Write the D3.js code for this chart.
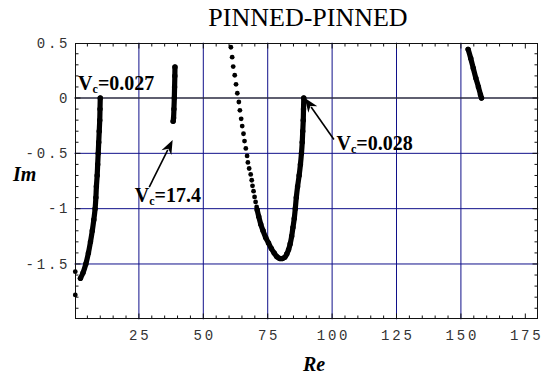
<!DOCTYPE html>
<html>
<head>
<meta charset="utf-8">
<script src="https://cdn.jsdelivr.net/npm/d3@7"></script>
<style>
  html, body { margin: 0; padding: 0; background: #fff; }
  svg { display: block; }
</style>
</head>
<body>
<script>
// ---------------- data ----------------
const titleText = "PINNED-PINNED";
const xLabel = "Re";
const yLabel = "Im";

const xTickValues = [25, 50, 75, 100, 125, 150, 175];
const xTickLabels = ["25", "50", "75", "100", "125", "150", "175"];
const yTickValues = [0.5, 0, -0.5, -1, -1.5];
const yTickLabels = ["0.5", "0", "-0.5", "-1", "-1.5"];
const xGridValues = [25, 50, 75, 100, 125, 150];
const yGridValues = [-1.5, -1, -0.5];

// branch near Re ~ 10 (dense)
const curveA = [
  [10.0, 0.0], [9.9, -0.1], [9.8, -0.2], [9.6, -0.3], [9.4, -0.4], [9.2, -0.5],
  [9.0, -0.6], [8.8, -0.7], [8.5, -0.8], [8.3, -0.9], [8.0, -1.0], [7.5, -1.1],
  [6.9, -1.2], [6.2, -1.3], [5.4, -1.4], [4.4, -1.5], [3.3, -1.58], [2.3, -1.63]
];
const curveAIsolated = [[0.3, -1.57], [0.3, -1.78]];

// short vertical branch near Re ~ 38.7 (dense)
const curveB = [
  [39.0, 0.28], [38.95, 0.2], [38.85, 0.1], [38.75, 0.0], [38.6, -0.1], [38.45, -0.18], [38.3, -0.21]
];

// U-shaped branch: sparse dots at the top-left, then dense
const curveCSparse = [
  [60.7, 0.459], [61.2, 0.369], [61.6, 0.284], [62.2, 0.206], [62.7, 0.124], [63.2, 0.043],
  [63.8, -0.036], [64.2, -0.111], [64.7, -0.188], [65.1, -0.254], [65.6, -0.323], [66.0, -0.389],
  [66.5, -0.456], [67.0, -0.523], [67.3, -0.582], [67.8, -0.637], [68.4, -0.691], [68.8, -0.743],
  [69.1, -0.794], [69.5, -0.842], [69.9, -0.894], [70.3, -0.939], [70.7, -0.984]
];
const curveCDense = [
  [70.9, -1.01], [71.5, -1.07], [72.3, -1.14], [73.2, -1.20], [74.2, -1.26], [75.3, -1.31],
  [76.4, -1.36], [77.5, -1.40], [78.6, -1.435], [79.7, -1.45], [80.7, -1.45], [81.6, -1.44],
  [82.4, -1.41], [83.1, -1.37], [83.7, -1.32], [84.3, -1.25], [84.8, -1.17], [85.3, -1.09],
  [85.7, -1.0], [86.1, -0.9], [86.6, -0.8], [87.2, -0.7], [87.7, -0.6], [88.1, -0.5],
  [88.4, -0.4], [88.6, -0.3], [88.8, -0.2], [88.9, -0.1], [89.0, 0.0]
];

// branch near Re ~ 155 (dense)
const curveD = [
  [152.8, 0.44], [153.8, 0.36], [154.8, 0.27], [155.8, 0.18], [156.8, 0.10], [157.6, 0.03], [158.0, 0.0]
];

// annotations: "V" + subscript "c" + value
const annotationValues = ["=0.027", "=17.4", "=0.028"];
const annotationAnchors = [[1.4, 0.072], [23.4, -0.939], [101.7, -0.471]];
const arrowTails = [[29.0, -0.806], [100.7, -0.375]];
const arrowTips = [[38.1, -0.380], [89.4, 0.0]];

// ---------------- drawing ----------------
const W = 549, H = 376;
const svg = d3.select("body").append("svg")
  .attr("width", W).attr("height", H)
  .attr("viewBox", `0 0 ${W} ${H}`);
svg.append("rect").attr("width", W).attr("height", H).attr("fill", "#fff");

const x = d3.scaleLinear().domain([0, 180]).range([74.5, 538.2]);
const y = d3.scaleLinear().domain([-2, 0.5]).range([319.3, 42.7]);

const gridColor = "#10108a";

// grid lines
svg.append("g").selectAll("line").data(xGridValues).join("line")
  .attr("x1", d => x(d)).attr("x2", d => x(d))
  .attr("y1", y(0.5)).attr("y2", y(-2))
  .attr("stroke", gridColor).attr("stroke-width", 1);
svg.append("g").selectAll("line").data(yGridValues).join("line")
  .attr("x1", x(0)).attr("x2", x(180))
  .attr("y1", d => y(d)).attr("y2", d => y(d))
  .attr("stroke", gridColor).attr("stroke-width", 1);
// zero line
svg.append("line")
  .attr("x1", x(0)).attr("x2", x(180))
  .attr("y1", y(0)).attr("y2", y(0))
  .attr("stroke", "#2a2a40").attr("stroke-width", 1.6);

// frame
const fx0 = Math.round(x(0)) + 0.5, fx1 = Math.round(x(180)) - 0.5;
const fy0 = Math.round(y(0.5)) + 0.5, fy1 = Math.round(y(-2)) - 0.5;
svg.append("rect")
  .attr("x", fx0).attr("y", fy0)
  .attr("width", fx1 - fx0).attr("height", fy1 - fy0)
  .attr("fill", "none").attr("stroke", "#111").attr("stroke-width", 1);

// ticks (inside, all four sides)
const xMinor = d3.range(5, 180, 5);
const yMinor = d3.range(-19, 5).map(v => v / 10);
const tickG = svg.append("g").attr("stroke", "#111").attr("stroke-width", 1);
xMinor.forEach(v => {
  const len = (v % 25 === 0) ? 5 : 3;
  tickG.append("line").attr("x1", x(v)).attr("x2", x(v)).attr("y1", fy1).attr("y2", fy1 - len);
  tickG.append("line").attr("x1", x(v)).attr("x2", x(v)).attr("y1", fy0).attr("y2", fy0 + len);
});
yMinor.forEach(v => {
  const major = Math.abs(Math.round(v * 10) % 5) === 0;
  const len = major ? 5 : 3;
  tickG.append("line").attr("x1", fx0).attr("x2", fx0 + len).attr("y1", y(v)).attr("y2", y(v));
  tickG.append("line").attr("x1", fx1).attr("x2", fx1 - len).attr("y1", y(v)).attr("y2", y(v));
});

// tick labels
const tickFont = "'Liberation Mono', 'DejaVu Sans Mono', monospace";
const ls = 2.8;
svg.append("g").selectAll("text").data(xTickValues).join("text")
  .attr("x", d => x(d) + ls / 2).attr("y", 339.5)
  .attr("text-anchor", "middle")
  .attr("font-family", tickFont).attr("font-size", 14)
  .attr("letter-spacing", ls).attr("fill", "#333")
  .text((d, i) => xTickLabels[i]);
svg.append("g").selectAll("text").data(yTickValues).join("text")
  .attr("x", 67.5 + ls).attr("y", d => y(d) + 4.8)
  .attr("text-anchor", "end")
  .attr("font-family", tickFont).attr("font-size", 14)
  .attr("letter-spacing", ls).attr("fill", "#333")
  .text((d, i) => yTickLabels[i]);

// title and axis labels
const serif = "'Liberation Serif', 'Times New Roman', serif";
svg.append("text").attr("x", 308).attr("y", 26)
  .attr("text-anchor", "middle").attr("font-family", serif).attr("font-size", 26)
  .attr("fill", "#000").text(titleText);
svg.append("text").attr("x", 13).attr("y", 180.5)
  .attr("font-family", serif).attr("font-size", 20)
  .attr("font-weight", "bold").attr("font-style", "italic")
  .attr("fill", "#000").text(yLabel);
svg.append("text").attr("x", 314).attr("y", 371)
  .attr("text-anchor", "middle").attr("font-family", serif).attr("font-size", 20)
  .attr("font-weight", "bold").attr("font-style", "italic")
  .attr("fill", "#000").text(xLabel);

// data
const line = d3.line().x(d => x(d[0])).y(d => y(d[1])).curve(d3.curveCatmullRom);
const dataG = svg.append("g");
[curveA, curveB, curveCDense, curveD].forEach(arr => {
  dataG.append("path").datum(arr).attr("d", line)
    .attr("fill", "none").attr("stroke", "#000")
    .attr("stroke-width", 5.2).attr("stroke-linecap", "round").attr("stroke-linejoin", "round");
  dataG.append("g").selectAll("circle").data(arr).join("circle")
    .attr("cx", d => x(d[0])).attr("cy", d => y(d[1])).attr("r", 2.7).attr("fill", "#000");
});
[curveCSparse, curveAIsolated].forEach(arr => {
  dataG.append("g").selectAll("circle").data(arr).join("circle")
    .attr("cx", d => x(d[0])).attr("cy", d => y(d[1])).attr("r", 2.4).attr("fill", "#000");
});

// arrows
arrowTails.forEach((t, i) => {
  const tip = arrowTips[i];
  const x1 = x(t[0]), y1 = y(t[1]), x2 = x(tip[0]), y2 = y(tip[1]);
  const ang = Math.atan2(y2 - y1, x2 - x1);
  const hl = 14, hw = 5.5;
  const bx = x2 - hl * Math.cos(ang), by = y2 - hl * Math.sin(ang);
  svg.append("line").attr("x1", x1).attr("y1", y1).attr("x2", bx + 3 * Math.cos(ang)).attr("y2", by + 3 * Math.sin(ang))
    .attr("stroke", "#000").attr("stroke-width", 1.6);
  const px = -Math.sin(ang), py = Math.cos(ang);
  const pts = [
    [x2, y2],
    [bx + hw * px, by + hw * py],
    [x2 - 0.7 * hl * Math.cos(ang), y2 - 0.7 * hl * Math.sin(ang)],
    [bx - hw * px, by - hw * py]
  ];
  svg.append("polygon").attr("points", pts.map(p => p.join(",")).join(" ")).attr("fill", "#000");
});

// annotation labels
annotationAnchors.forEach((a, i) => {
  const t = svg.append("text").attr("x", x(a[0])).attr("y", y(a[1]))
    .attr("font-family", serif).attr("font-weight", "bold").attr("font-size", 20).attr("fill", "#000");
  t.append("tspan").text("V");
  t.append("tspan").attr("font-size", 12).attr("dy", 3).text("c");
  t.append("tspan").attr("dy", -3).text(annotationValues[i]);
});
</script>
</body>
</html>
